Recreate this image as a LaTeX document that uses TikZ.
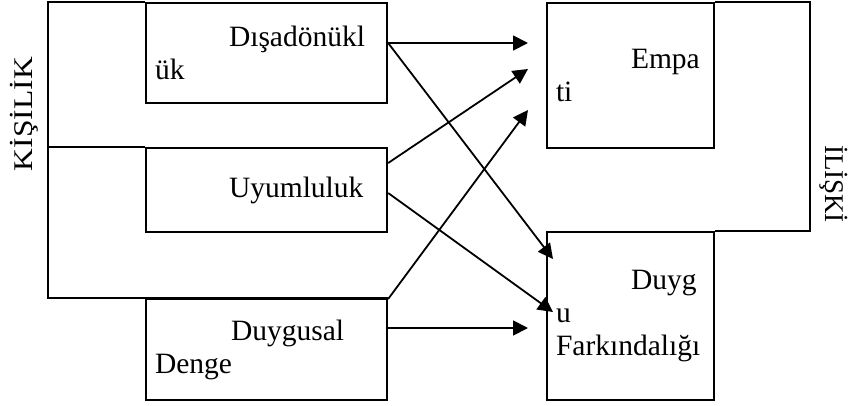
\documentclass[tikz,border=0pt]{standalone}
\usepackage{fontspec}
\setmainfont{Liberation Serif}
\usetikzlibrary{arrows.meta}
\tikzstyle{box}=[draw,line width=2.3pt,inner sep=9pt,align=left,font=\fontsize{29.5}{33}\selectfont]
\tikzstyle{outline}=[draw,line width=2.3pt]
\tikzstyle{link}=[draw,line width=1.8pt,-{Triangle[length=15pt,width=15pt]}]
\tikzstyle{side}=[font=\fontsize{27}{27}\selectfont]

\begin{document}
\begin{tikzpicture}[x=1pt,y=-1pt]
    \useasboundingbox (0,0) rectangle (849,405);
    % First we draw the boxes
    \foreach \pos/\name/\tw/\h/\txt in {{(266.5,53)/disa/223/100/{\hspace*{74pt}Dışadönükl\\ük}},
        {(266.5,190)/uyum/223/84/{\hspace*{74pt}Uyumluluk}},
        {(266.5,349.5)/denge/223/101/{\hspace*{76pt}Duygusal\\Denge}},
        {(630.5,75.5)/empati/149/145/{\hspace*{75pt}Empa\\ti}},
        {(630.5,316)/farkin/149/168/{\hspace*{75pt}Duyg\\u\\Farkındalığı}}}
        \node[box,text width=\tw pt,minimum height=\h pt] (\name) at \pos {\txt};

    % Group frames and their titles
    \path[outline] (disa.north west) -- ++(-97,0) |- (denge.north east);
    \path[outline] (uyum.north west) -- ++(-97,0);
    \path[outline] (empati.north east) -- ++(95,0) |- (farkin.north east);
    \node[side,rotate=90] (kisilik) at (24,114) {\scalebox{1.17}[1]{KİŞİLİK}};
    \node[side,rotate=-90] (iliski) at (834,184) {İLİŞKİ};

    % Arrow ends in front of the right boxes
    \coordinate (e1) at (528,43);
    \coordinate (e2) at (528,69);
    \coordinate (e3) at (528,110);
    \coordinate (f1) at (553,259);
    \coordinate (f2) at (553,312);
    \coordinate (f3) at (528,328);

    % Connect boxes with arrows
    \foreach \source/\dy/\dest in {disa/10/e1, disa/10/f1, uyum/27/e2, uyum/-3/f2, denge/50.5/e3, denge/21.5/f3}
        \path[link] ([yshift=\dy pt]\source.east) -- (\dest);
\end{tikzpicture}
\end{document}
